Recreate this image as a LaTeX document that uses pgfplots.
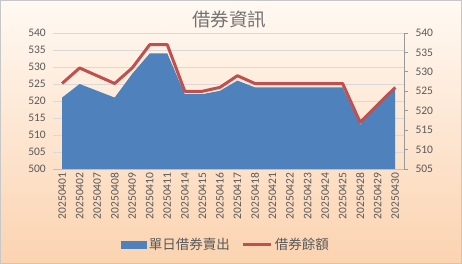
\documentclass[border=0pt]{standalone}
\usepackage{pgfplots}
\pgfplotsset{compat=1.18}
\usepackage{pgfplotstable}
\usepackage{fontspec}
\setmainfont{Carlito}
\newfontfamily\cjk{Noto Sans CJK TC}
\definecolor{txt}{HTML}{595959}
\definecolor{areablue}{HTML}{4F81BD}
\definecolor{linered}{HTML}{C0504D}
\definecolor{gridc}{HTML}{D9D9D9}
\definecolor{bgtop}{HTML}{FFF9F3}
\definecolor{bgbot}{HTML}{FBD3B0}
\pgfplotstableread{
i area line
0 521 527
1 525 531
2 523 529
3 521 527
4 528 531
5 534 537
6 534 537
7 522 525
8 522 525
9 523 526
10 526 529
11 524 527
12 524 527
13 524 527
14 524 527
15 524 527
16 524 527
17 513 517
18 519 521.5
19 523.5 526
}\data
\begin{document}
\begin{tikzpicture}[x=1pt,y=1pt]
\useasboundingbox (0,0) rectangle (462,264);
\shade[top color=bgtop, bottom color=bgbot] (0,0) rectangle (462,264);
\draw[gridc!80!gray, line width=1.2pt] (0.6,0.6) rectangle (461.4,263.4);
\node[text=txt!85, font=\cjk\fontsize{18.5}{20}\selectfont] at (229,245) {借券資訊};
\begin{axis}[
  at={(53.3pt,95pt)}, anchor=south west,
  scale only axis, width=350.7pt, height=136pt,
  xmin=-0.5, xmax=19.5, ymin=500, ymax=540,
  ytick={500,505,...,540},
  xtick={0,...,19},
  xticklabels={20250401,20250402,20250407,20250408,20250409,20250410,20250411,20250414,20250415,20250416,20250417,20250418,20250421,20250422,20250423,20250424,20250425,20250428,20250429,20250430},
  xticklabel style={rotate=90, anchor=east, text=txt, font=\fontsize{11.5}{12}\selectfont},
  yticklabel style={text=txt, font=\fontsize{11.5}{12}\selectfont, xshift=-4pt},
  /pgf/number format/assume math mode=true,
  axis x line*=bottom, axis y line*=left,
  y axis line style={draw=none},
  x axis line style={draw=gridc!70!gray, -},
  ytick style={draw=none},
  major x tick style={draw=none},
  extra x ticks={-0.5,0.5,...,19.5},
  extra x tick labels={},
  extra x tick style={major tick length=5pt, tick align=outside, tick style={draw=gridc!70!gray}, grid=none},
  ymajorgrids, grid style={gridc, line width=0.8pt},
  clip=true,
]
\addplot[fill=areablue, draw=none] table[x=i, y=area] {\data} \closedcycle;
\end{axis}
\begin{axis}[
  at={(53.3pt,95pt)}, anchor=south west,
  scale only axis, width=350.7pt, height=136pt,
  xmin=-0.5, xmax=19.5, ymin=505, ymax=540,
  ytick={505,510,...,540},
  axis x line=none, axis y line*=right,
  y axis line style={draw=gray!80, line width=0.8pt, -},
  ytick style={draw=gray!80, line width=0.8pt},
  tick align=outside, major tick length=4pt,
  yticklabel style={text=txt, font=\fontsize{11.5}{12}\selectfont, xshift=4pt},
  /pgf/number format/assume math mode=true,
  legend columns=2,
  legend style={at={(0.493,-0.554)}, anchor=center, draw=none, fill=none,
    font=\cjk\fontsize{13.5}{15}\selectfont, text=txt,
    /tikz/every even column/.append style={column sep=10pt}},
  clip=false,
]
\addlegendimage{legend image code/.code={\fill[areablue] (0pt,-3.5pt) rectangle (25pt,3.5pt);}}
\addlegendentry{單日借券賣出}
\addplot[linered, line width=3pt, line join=round, legend image code/.code={\draw[linered, line width=3pt] (0pt,0pt) -- (28pt,0pt);}] table[x=i, y=line] {\data};
\addlegendentry{借券餘額}
\end{axis}
\end{tikzpicture}
\end{document}
